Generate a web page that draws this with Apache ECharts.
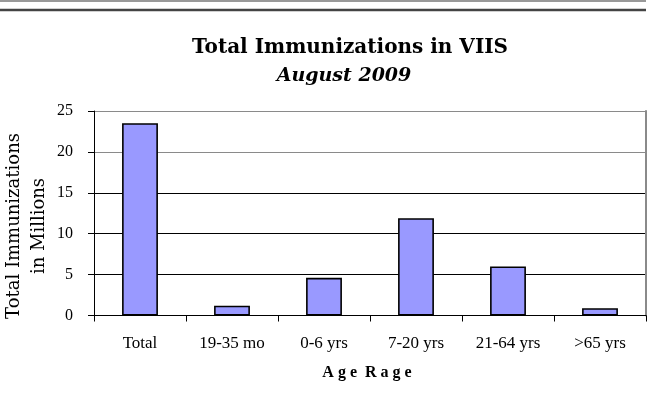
<!DOCTYPE html>
<html>
<head>
<meta charset="utf-8">
<script src="https://cdn.jsdelivr.net/npm/echarts@6/dist/echarts.min.js"></script>
<style>html,body{margin:0;padding:0;background:#fff;}#c{width:658px;height:402px;}</style>
</head>
<body>
<div id="c"></div>
<script>
var categories = ['Total', '19-35 mo', '0-6 yrs', '7-20 yrs', '21-64 yrs', '>65 yrs'];
var values = [23.5, 1.2, 4.6, 11.9, 6.0, 0.9];
var yTicks = { min: 0, max: 25, interval: 5 };
var titleText = 'Total Immunizations in VIIS';
var subtitleText = 'August 2009';
var yName = 'Total Immunizations\nin Millions';
var xName = 'A g e  R a g e';

var chart = echarts.init(document.getElementById('c'), null, { renderer: 'canvas' });
var serif = '"Liberation Serif", "Times New Roman", serif';
var slab = '"DejaVu Serif", serif';
var gridLeft = 94, gridRight = 12, gridTop = 111, gridBottom = 86.5;

chart.setOption({
  backgroundColor: '#fff',
  animation: false,
  title: [
    { text: titleText, left: 345, top: 33, textAlign: 'center',
      textStyle: { fontFamily: slab, fontWeight: 'bold', fontSize: 20, color: '#000' } },
    { text: subtitleText, left: 339, top: 62, textAlign: 'center',
      textStyle: { fontFamily: slab, fontWeight: 'bold', fontStyle: 'italic', fontSize: 19, color: '#000' } }
  ],
  grid: { left: gridLeft, right: gridRight, top: gridTop, bottom: gridBottom, containLabel: false },
  xAxis: {
    type: 'category',
    data: categories,
    boundaryGap: true,
    axisLine: { show: true, lineStyle: { color: '#000', width: 1 } },
    axisTick: { show: true, alignWithLabel: false, length: 6, lineStyle: { color: '#000' } },
    axisLabel: { margin: 20, fontFamily: serif, fontSize: 17, color: '#000', interval: 0 },
    splitLine: { show: false }
  },
  yAxis: [
    {
      type: 'value',
      min: yTicks.min, max: yTicks.max, interval: yTicks.interval,
      axisLine: { show: true, lineStyle: { color: '#000', width: 1 } },
      axisTick: { show: true, length: 6, lineStyle: { color: '#000' } },
      axisLabel: { margin: 21, fontFamily: serif, fontSize: 16, color: '#000' },
      splitLine: { show: true, lineStyle: { color: ['#000', '#000', '#000', '#000', '#8a8a8a', '#8a8a8a'], width: 1.2 } }
    },
    {
      type: 'value', position: 'right',
      min: yTicks.min, max: yTicks.max, interval: yTicks.interval,
      axisLine: { show: true, lineStyle: { color: '#8a8a8a', width: 2 } },
      axisTick: { show: false }, axisLabel: { show: false }, splitLine: { show: false }
    }
  ],
  series: [{
    type: 'bar',
    data: values,
    barWidth: '39%',
    itemStyle: { color: '#9999FF', borderColor: '#000', borderWidth: 1.6 }
  }],
  graphic: [
    { type: 'line', shape: { x1: 0, y1: 1, x2: 646, y2: 1 }, style: { stroke: '#777', lineWidth: 1.5 } },
    { type: 'line', shape: { x1: 0, y1: 10, x2: 646, y2: 10 }, style: { stroke: '#444', lineWidth: 2.5 } },
    { type: 'text', x: 27, y: 226, rotation: Math.PI / 2,
      style: { text: yName, fontFamily: slab, fontSize: 18, lineHeight: 25, fill: '#000',
               textAlign: 'center', textVerticalAlign: 'middle' } },
    { type: 'text', x: 367, y: 373,
      style: { text: xName, fontFamily: serif, fontWeight: 'bold', fontSize: 16, fill: '#000',
               textAlign: 'center', textVerticalAlign: 'middle' } }
  ]
});
</script>
</body>
</html>
